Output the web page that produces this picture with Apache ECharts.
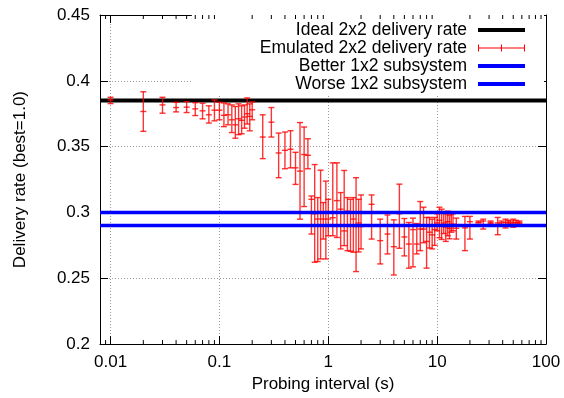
<!DOCTYPE html>
<html>
<head>
<meta charset="utf-8">
<script src="https://cdn.jsdelivr.net/npm/echarts@6/dist/echarts.min.js"></script>
<style>
  html, body { margin: 0; padding: 0; background: #fff; }
  #chart { width: 564px; height: 398px; }
</style>
</head>
<body>
<div id="chart"></div>
<script>
// Probing interval (s) for each emulation run
const probeInterval = [
  0.01, 0.02, 0.03, 0.04, 0.05, 0.06, 0.07, 0.08, 0.09, 0.10,
  0.11, 0.12, 0.13, 0.14, 0.15, 0.16, 0.17, 0.18, 0.19, 0.20,
  0.25, 0.30, 0.35, 0.40, 0.45, 0.50, 0.55, 0.60, 0.65, 0.70,
  0.75, 0.80, 0.85, 0.90, 0.95, 1.0,
  1.1, 1.2, 1.3, 1.4, 1.5, 1.6, 1.7, 1.8, 1.9, 2.0,
  2.5, 3.0, 3.5, 4.0, 4.5, 5.0, 5.5, 6.0, 6.5, 7.0, 7.5, 8.0, 8.5, 9.0, 9.5, 10,
  10.5, 11, 11.5, 12, 12.5, 13, 13.5, 14,
  15, 18, 20, 24, 26.5, 31, 36, 39, 42.5, 45, 47, 50, 53, 57
];
// Mean emulated delivery rate
const meanRate = [
  0.3855, 0.3767, 0.3817, 0.3797, 0.3800, 0.3787, 0.3772, 0.3742, 0.3777, 0.3777,
  0.3738, 0.3742, 0.3704, 0.3666, 0.3712, 0.3700, 0.3725, 0.3750, 0.3730, 0.3780,
  0.3573, 0.3686, 0.3452, 0.3472, 0.3480, 0.3339, 0.3314, 0.3440, 0.3434, 0.3100,
  0.2990, 0.2950, 0.3000, 0.2950, 0.3000, 0.2950,
  0.2960, 0.3090, 0.3025, 0.2860, 0.3010, 0.2900, 0.2950, 0.2893, 0.2920, 0.2893,
  0.3062, 0.2786, 0.2836, 0.2740, 0.2990, 0.2814, 0.2760, 0.2870, 0.2760, 0.2874, 0.2874, 0.2780, 0.2850, 0.2830, 0.2870, 0.2920,
  0.2940, 0.2900, 0.2920, 0.2890, 0.2930, 0.2880, 0.2910, 0.2910,
  0.2880, 0.2883, 0.2930, 0.2925, 0.2935, 0.2925, 0.2920, 0.2920, 0.2925, 0.2920, 0.2920, 0.2920, 0.2925, 0.2925
];
// Lower end of each error bar
const lowRate = [
  0.3827, 0.3616, 0.3754, 0.3764, 0.3759, 0.3736, 0.3711, 0.3679, 0.3696, 0.3704,
  0.3652, 0.3666, 0.3607, 0.3564, 0.3591, 0.3598, 0.3640, 0.3672, 0.3620, 0.3704,
  0.3409, 0.3573, 0.3264, 0.3332, 0.3339, 0.3213, 0.2949, 0.3045, 0.3332, 0.2836,
  0.2622, 0.2627, 0.2647, 0.2798, 0.2647, 0.2823,
  0.2823, 0.2810, 0.2723, 0.2748, 0.2710, 0.2705, 0.2698, 0.2551, 0.2700, 0.2723,
  0.2798, 0.2609, 0.2685, 0.2525, 0.2728, 0.2670, 0.2577, 0.2587, 0.2685, 0.2710, 0.2770, 0.2577, 0.2730, 0.2723, 0.2750, 0.2861,
  0.2808, 0.2795, 0.2840, 0.2780, 0.2823, 0.2800, 0.2850, 0.2861,
  0.2798, 0.2710, 0.2798, 0.2920, 0.2874, 0.2915, 0.2831, 0.2905, 0.2882, 0.2900, 0.2905, 0.2888, 0.2910, 0.2915
];
// Upper end of each error bar
const highRate = [
  0.3875, 0.3917, 0.3875, 0.3837, 0.3842, 0.3834, 0.3830, 0.3810, 0.3855, 0.3837,
  0.3832, 0.3825, 0.3817, 0.3805, 0.3825, 0.3810, 0.3817, 0.3870, 0.3825, 0.3840,
  0.3742, 0.3797, 0.3603, 0.3611, 0.3621, 0.3457, 0.3683, 0.3649, 0.3560, 0.3125,
  0.3364, 0.3113, 0.3321, 0.3075, 0.3238, 0.3100,
  0.3377, 0.3377, 0.3151, 0.3319, 0.3113, 0.3100, 0.3113, 0.3264, 0.3100, 0.3133,
  0.3133, 0.2949, 0.2981, 0.2944, 0.3215, 0.2954, 0.2924, 0.2957, 0.2916, 0.3083, 0.3040, 0.2962, 0.2962, 0.2949, 0.2962, 0.2990,
  0.3040, 0.3025, 0.3000, 0.2990, 0.3010, 0.2980, 0.2990, 0.2990,
  0.2957, 0.2970, 0.2970, 0.2935, 0.2949, 0.2935, 0.2962, 0.2935, 0.2949, 0.2940, 0.2935, 0.2949, 0.2940, 0.2935
];

// Reference levels
const idealRate = 0.385;
const betterSubsystemRate = 0.30;
const worseSubsystemRate = 0.29;

// Axis ranges
const xMin = 0.008, xMax = 100;
const yMin = 0.2, yMax = 0.45, yStep = 0.05;

// Minor tick positions on the logarithmic x axis
const xMinorTicks = [
  0.009,
  0.02, 0.03, 0.04, 0.05, 0.06, 0.07, 0.08, 0.09,
  0.2, 0.3, 0.4, 0.5, 0.6, 0.7, 0.8, 0.9,
  2, 3, 4, 5, 6, 7, 8, 9,
  20, 30, 40, 50, 60, 70, 80, 90
];

const seriesNames = [
  'Ideal 2x2 delivery rate',
  'Emulated 2x2 delivery rate',
  'Better 1x2 subsystem',
  'Worse 1x2 subsystem'
];

const FONT = '"Liberation Sans", Arial, Helvetica, sans-serif';
const FS = 17;

const errorRows = probeInterval.map((x, i) => [x, meanRate[i], lowRate[i], highRate[i]]);

const chart = echarts.init(document.getElementById('chart'), null, { renderer: 'canvas' });

const gridLine = { show: true, lineStyle: { color: '#999', width: 1, type: [1, 2] } };
const boxLine = { show: true, lineStyle: { color: '#000', width: 1 } };

function lineIcon(h) {
  return 'path://M0,0h47v' + h + 'h-47z';
}
const errIcon = 'path://M0,0h1v7h-1z M0,3h47v1h-47z M23,0h1v7h-1z M46,0h1v7h-1z';

chart.setOption({
  animation: false,
  backgroundColor: '#fff',
  textStyle: { fontFamily: FONT, color: '#000' },
  grid: { left: 100, right: 18, top: 15, bottom: 52, containLabel: false },
  legend: {
    orient: 'vertical',
    right: 20,
    top: 15,
    align: 'right',
    padding: [6, 19, 2, 68],
    backgroundColor: '#fff',
    itemWidth: 47,
    itemHeight: 14,
    itemGap: 0,
    symbolKeepAspect: true,
    textStyle: { fontFamily: FONT, fontSize: 17.5, lineHeight: 18, color: '#000', padding: [0, 6, 0, 0] },
    selectedMode: false,
    data: [
      { name: seriesNames[0], icon: lineIcon(4), itemStyle: { color: '#000' } },
      { name: seriesNames[1], icon: errIcon, itemStyle: { color: '#ff0000' } },
      { name: seriesNames[2], icon: lineIcon(4), itemStyle: { color: '#0000ff' } },
      { name: seriesNames[3], icon: lineIcon(4), itemStyle: { color: '#0000ff' } }
    ]
  },
  xAxis: [
    {
      type: 'log', logBase: 10, min: xMin, max: xMax, position: 'bottom',
      axisLine: boxLine,
      axisTick: { show: true, inside: true, length: 8, lineStyle: { color: '#000' } },
      axisLabel: {
        fontFamily: FONT, fontSize: FS, color: '#000', margin: 10,
        showMinLabel: false,
        formatter: v => String(Number(v.toPrecision(6)))
      },
      splitLine: gridLine,
      name: 'Probing interval (s)', nameLocation: 'middle', nameGap: 30,
      nameTextStyle: { fontFamily: FONT, fontSize: FS, color: '#000' }
    },
    {
      type: 'log', logBase: 10, min: xMin, max: xMax, position: 'top',
      axisLine: boxLine,
      axisTick: { show: true, inside: true, length: 8, lineStyle: { color: '#000' } },
      axisLabel: { show: false },
      splitLine: { show: false }
    }
  ],
  yAxis: [
    {
      type: 'value', min: yMin, max: yMax, interval: yStep, position: 'left',
      axisLine: boxLine,
      axisTick: { show: true, inside: true, length: 8, lineStyle: { color: '#000' } },
      axisLabel: { fontFamily: FONT, fontSize: FS, color: '#000', margin: 10,
        formatter: v => String(Number(v.toFixed(2))) },
      splitLine: gridLine,
      name: 'Delivery rate (best=1.0)', nameLocation: 'middle', nameGap: 71, nameRotate: 90,
      nameTextStyle: { fontFamily: FONT, fontSize: FS, color: '#000' }
    },
    {
      type: 'value', min: yMin, max: yMax, interval: yStep, position: 'right',
      axisLine: boxLine,
      axisTick: { show: true, inside: true, length: 8, lineStyle: { color: '#000' } },
      axisLabel: { show: false },
      splitLine: { show: false }
    }
  ],
  series: [
    {
      name: seriesNames[0], type: 'line', xAxisIndex: 0, yAxisIndex: 0,
      data: [[xMin, idealRate], [xMax, idealRate]],
      symbol: 'none', lineStyle: { color: '#000', width: 4 }, itemStyle: { color: '#000' },
      silent: true, z: 2
    },
    {
      name: seriesNames[1], type: 'custom', xAxisIndex: 0, yAxisIndex: 0,
      data: errorRows,
      encode: { x: 0, y: [1, 2, 3] },
      clip: true,
      itemStyle: { color: '#ff0000' },
      z: 3,
      renderItem: function (params, api) {
        const x = api.value(0);
        const c = api.coord([x, api.value(1)]);
        const lo = api.coord([x, api.value(2)]);
        const hi = api.coord([x, api.value(3)]);
        const hw = 3;
        const st = { stroke: 'rgba(255,0,0,0.8)', lineWidth: 1.4 };
        return {
          type: 'group',
          children: [
            { type: 'line', shape: { x1: lo[0], y1: lo[1], x2: hi[0], y2: hi[1] }, style: st },
            { type: 'line', shape: { x1: lo[0] - hw, y1: lo[1], x2: lo[0] + hw, y2: lo[1] }, style: st },
            { type: 'line', shape: { x1: hi[0] - hw, y1: hi[1], x2: hi[0] + hw, y2: hi[1] }, style: st },
            { type: 'line', shape: { x1: c[0] - hw, y1: c[1], x2: c[0] + hw, y2: c[1] }, style: st }
          ]
        };
      }
    },
    {
      name: seriesNames[2], type: 'line', xAxisIndex: 0, yAxisIndex: 0,
      data: [[xMin, betterSubsystemRate], [xMax, betterSubsystemRate]],
      symbol: 'none', lineStyle: { color: '#0000ff', width: 3.5 }, itemStyle: { color: '#0000ff' },
      silent: true, z: 4
    },
    {
      name: seriesNames[3], type: 'line', xAxisIndex: 0, yAxisIndex: 0,
      data: [[xMin, worseSubsystemRate], [xMax, worseSubsystemRate]],
      symbol: 'none', lineStyle: { color: '#0000ff', width: 3.5 }, itemStyle: { color: '#0000ff' },
      silent: true, z: 4
    },
    {
      // short minor ticks along the bottom and top frame edges
      name: 'minor ticks', type: 'custom', xAxisIndex: 0, yAxisIndex: 0,
      data: xMinorTicks.map(v => [v, yMin]),
      encode: { x: 0, y: 1 },
      silent: true,
      z: 5,
      renderItem: function (params, api) {
        const b = api.coord([api.value(0), yMin]);
        const t = api.coord([api.value(0), yMax]);
        const st = { stroke: '#000', lineWidth: 1 };
        return {
          type: 'group',
          children: [
            { type: 'line', shape: { x1: b[0], y1: b[1], x2: b[0], y2: b[1] - 4 }, style: st },
            { type: 'line', shape: { x1: t[0], y1: t[1], x2: t[0], y2: t[1] + 4 }, style: st }
          ]
        };
      }
    }
  ]
});
</script>
</body>
</html>
